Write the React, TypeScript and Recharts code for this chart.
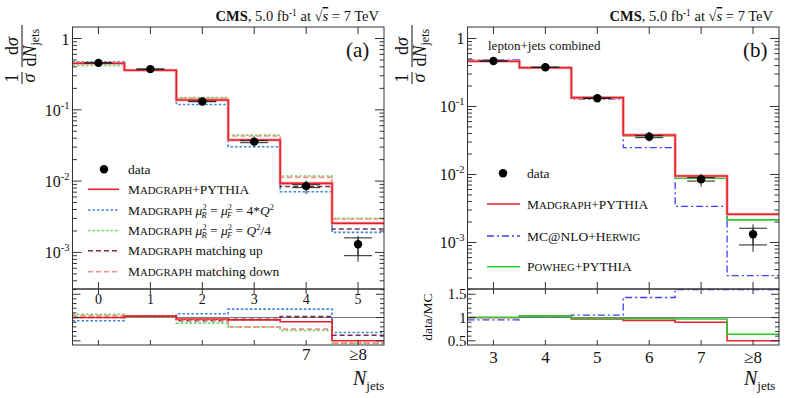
import React from 'react';
import { ComposedChart, Line, Scatter, XAxis, YAxis, ErrorBar, ReferenceLine } from 'recharts';

const FONT = '"Liberation Serif", "DejaVu Serif", serif';
const AXIS_COLOR = '#333';
const TEXT_COLOR = '#111';

// ---------------- Panel (a) ----------------
const CATS_A = [0, 1, 2, 3, 4, 5];
const TOP_LABELS_A = ['0', '1', '2', '3', '4', '5'];
const BOTTOM_LABELS_A = ['', '', '', '', '7', '≥8'];
const DATA_A = [0.455, 0.372, 0.131, 0.0358, 0.0085, 0.0013];
const DATA_A_TOT: number[][] = [[0.01, 0.01], [0.008, 0.008], [0.003, 0.003], [0.0055, 0.0065], [0.0019, 0.0017], [0.00056, 0.0004]];
const DATA_A_STAT: number[][] = [[0.002, 0.002], [0.002, 0.002], [0.001, 0.001], [0.0012, 0.0012], [0.0004, 0.0004], [0.0004, 0.0003]];
const MG_A = [0.45, 0.358, 0.137, 0.0377, 0.0093, 0.00256];
const SCALE_UP_A = [0.473, 0.362, 0.119, 0.0304, 0.0071, 0.00191];
const SCALE_DOWN_A = [0.42, 0.362, 0.148, 0.0443, 0.0118, 0.003];
const MATCH_UP_A = [0.45, 0.36, 0.14, 0.0375, 0.0084, 0.00213];
const MATCH_DOWN_A = [0.44, 0.36, 0.145, 0.043, 0.0113, 0.00295];
const R_MG_A = [1.0, 1.03, 0.97, 0.95, 0.91, 0.5];
const R_SCALE_UP_A = [0.93, 1.03, 1.08, 1.18, 1.18, 0.68];
const R_SCALE_DOWN_A = [1.07, 1.02, 0.88, 0.79, 0.72, 0.45];
const R_MATCH_UP_A = [1.0, 1.03, 0.93, 0.96, 1.02, 0.62];
const R_MATCH_DOWN_A = [1.04, 1.03, 0.95, 0.8, 0.75, 0.45];

// ---------------- Panel (b) ----------------
const CATS_B = [3, 4, 5, 6, 7, 8];
const BOTTOM_LABELS_B = ['3', '4', '5', '6', '7', '≥8'];
const DATA_B = [0.467, 0.377, 0.132, 0.036, 0.0085, 0.00132];
const DATA_B_TOT: number[][] = [[0.01, 0.01], [0.008, 0.008], [0.003, 0.003], [0.0055, 0.0065], [0.0019, 0.0017], [0.00059, 0.00053]];
const DATA_B_STAT: number[][] = [[0.002, 0.002], [0.002, 0.002], [0.001, 0.001], [0.0012, 0.0012], [0.0005, 0.0005], [0.0004, 0.0003]];
const MG_B = [0.462, 0.372, 0.135, 0.038, 0.0095, 0.0026];
const MCNLO_B = [0.483, 0.38, 0.128, 0.0248, 0.0034, 0.000325];
const POWHEG_B = [0.462, 0.375, 0.133, 0.037, 0.0088, 0.00215];
const R_MG_B = [1.0, 1.03, 0.97, 0.94, 0.9, 0.5];
const R_MCNLO_B = [0.95, 1.02, 1.05, 1.43, 1.6, 1.6];
const R_POWHEG_B = [1.0, 1.03, 0.98, 0.98, 0.97, 0.64];

// ---------------- Axes ----------------
const LOG_MAJOR_TICKS = [1, 0.1, 0.01, 0.001];
const LOG_MAJOR_EXP = ['', '-1', '-2', '-3'];
const MAIN_DOMAIN_A: [number, number] = [3.07e-4, 1.45];
const MAIN_DOMAIN_B: [number, number] = [2.07e-4, 1.476];
const RATIO_DOMAIN: [number, number] = [0.41, 1.613];
const RATIO_TICKS = [0.5, 0.6, 0.7, 0.8, 0.9, 1.0, 1.1, 1.2, 1.3, 1.4, 1.5, 1.6];
const RATIO_MAJOR = [0.5, 1, 1.5];
const RATIO_LABELS = ['0.5', '1', '1.5'];

// ---------------- Layout ----------------
const PANEL_W_A = 395;
const PANEL_W_B = 394;
const PANEL_B_X = 395;
const PLOT_LEFT = 72.5;
const PLOT_W = 311.5;
const MAIN_TOP = 27;
const MID_Y = 289;
const BOT_Y = 345;
const MAIN_H = MID_Y - MAIN_TOP;
const RATIO_SVG_TOP = 280;
const RATIO_H = BOT_Y - MID_Y;

const ST = {
  mg: { stroke: '#e8202a', width: 1.6 },
  mgHalo: '#f6a8a8',
  scaleUp: { stroke: '#3b86e0', width: 1.6, dash: '2.5 2' },
  scaleDown: { stroke: '#66dd55', width: 1.6, dash: '2.5 2' },
  matchUp: { stroke: '#7a2d52', width: 1.6, dash: '5 3' },
  matchDown: { stroke: '#f78b8b', width: 1.6, dash: '5 3' },
  mcnlo: { stroke: '#3f3ff0', width: 1.3, dash: '7 3 2 3' },
  powheg: { stroke: '#2cc72c', width: 1.6 },
};

function stepRows(cats: number[], vals: number[]) {
  const rows = cats.map((c, i) => ({ x: c - 0.5, y: vals[i] }));
  rows.push({ x: cats[cats.length - 1] + 0.5, y: vals[vals.length - 1] });
  return rows;
}

function logTicks(domain: [number, number]) {
  const t: number[] = [];
  for (let e = -5; e <= 1; e++) {
    for (let k = 1; k <= 9; k++) {
      const v = k * Math.pow(10, e);
      if (v >= domain[0] && v <= domain[1]) t.push(v);
    }
  }
  return t;
}

function logYTick(plotW: number) {
  return (props: any) => {
    const { x, y, payload } = props;
    const v = payload.value as number;
    const mi = LOG_MAJOR_TICKS.findIndex((m) => Math.abs(m - v) / m < 1e-6);
    const major = mi >= 0;
    const len = major ? 9 : 4.5;
    return (
      <g>
        <line x1={x} y1={y} x2={x + len} y2={y} stroke={AXIS_COLOR} strokeWidth={1} />
        <line x1={x + plotW} y1={y} x2={x + plotW - len} y2={y} stroke={AXIS_COLOR} strokeWidth={1} />
        {major ? (
          <text x={x - 3} y={y + 6} textAnchor="end" fontFamily={FONT} fontSize={16} fill={TEXT_COLOR}>
            {LOG_MAJOR_EXP[mi] === '' ? '1' : (
              <>
                10<tspan fontSize={10.5} dy={-7}>{LOG_MAJOR_EXP[mi]}</tspan>
              </>
            )}
          </text>
        ) : null}
      </g>
    );
  };
}

function ratioYTick(plotW: number, showLabels: boolean) {
  return (props: any) => {
    const { x, y, payload } = props;
    const v = payload.value as number;
    const mi = RATIO_MAJOR.findIndex((m) => Math.abs(m - v) < 1e-6);
    const major = mi >= 0;
    const len = major ? 8 : 4;
    return (
      <g>
        <line x1={x} y1={y} x2={x + len} y2={y} stroke={AXIS_COLOR} strokeWidth={1} />
        <line x1={x + plotW} y1={y} x2={x + plotW - len} y2={y} stroke={AXIS_COLOR} strokeWidth={1} />
        {major && showLabels ? (
          <text x={x - 1} y={y + 5} textAnchor="end" fontFamily={FONT} fontSize={15} fill={TEXT_COLOR}>
            {RATIO_LABELS[mi]}
          </text>
        ) : null}
      </g>
    );
  };
}

function mainXTick(plotH: number) {
  return (props: any) => {
    const { x, y } = props;
    return (
      <g>
        <line x1={x} x2={x} y1={y} y2={y - 7} stroke={AXIS_COLOR} strokeWidth={1} />
        <line x1={x} x2={x} y1={y - plotH} y2={y - plotH + 7} stroke={AXIS_COLOR} strokeWidth={1} />
      </g>
    );
  };
}

function ratioXTick(plotH: number, cats: number[], bottomLabels: string[], bottomDy: number, topLabels?: string[]) {
  return (props: any) => {
    const { x, y, payload } = props;
    const i = cats.indexOf(payload.value);
    return (
      <g>
        <line x1={x} x2={x} y1={y} y2={y - 5} stroke={AXIS_COLOR} strokeWidth={1} />
        <line x1={x} x2={x} y1={y - plotH} y2={y - plotH + 5} stroke={AXIS_COLOR} strokeWidth={1} />
        {bottomLabels[i] ? (
          <text x={x} y={y + bottomDy} textAnchor="middle" fontFamily={FONT} fontSize={17} fill={TEXT_COLOR}>
            {bottomLabels[i]}
          </text>
        ) : null}
        {topLabels && topLabels[i] ? (
          <text x={x} y={y - plotH + 14.5} textAnchor="middle" fontFamily={FONT} fontSize={14} fill={TEXT_COLOR}>
            {topLabels[i]}
          </text>
        ) : null}
      </g>
    );
  };
}

function stepLine(key: string, cats: number[], vals: number[], s: { stroke: string; width: number; dash?: string }) {
  return (
    <Line
      key={key}
      data={stepRows(cats, vals)}
      dataKey="y"
      type="stepAfter"
      stroke={s.stroke}
      strokeWidth={s.width}
      strokeDasharray={s.dash}
      dot={false}
      activeDot={false}
      isAnimationActive={false}
    />
  );
}

function dataScatter(cats: number[], vals: number[], tot: number[][], stat: number[][]) {
  const pts = cats.map((c, i) => ({ x: c, y: vals[i], tot: tot[i], stat: stat[i] }));
  return (
    <Scatter
      key="data"
      data={pts}
      dataKey="y"
      isAnimationActive={false}
      shape={(p: any) => <circle cx={p.cx} cy={p.cy} r={4.2} fill="#000" />}
    >
      <ErrorBar dataKey="tot" direction="y" width={0} stroke="#222" strokeWidth={1} />
      <ErrorBar dataKey="stat" direction="y" width={14} stroke="#222" strokeWidth={1} />
    </Scatter>
  );
}

function MainChart({ width, cats, domain, children }: any) {
  return (
    <ComposedChart
      width={width}
      height={295}
      margin={{ top: MAIN_TOP, right: width - PLOT_LEFT - PLOT_W, bottom: 1, left: PLOT_LEFT - 40 }}
    >
      <XAxis
        type="number"
        dataKey="x"
        domain={[cats[0] - 0.5, cats[cats.length - 1] + 0.5]}
        allowDataOverflow
        ticks={cats}
        interval={0}
        height={5}
        axisLine={false}
        tickLine={false}
        tickSize={0}
        tickMargin={0}
        tick={mainXTick(MAIN_H)}
      />
      <YAxis
        type="number"
        scale="log"
        domain={domain}
        allowDataOverflow
        ticks={logTicks(domain)}
        interval={0}
        width={40}
        axisLine={false}
        tickLine={false}
        tickSize={0}
        tickMargin={0}
        tick={logYTick(PLOT_W)}
      />
      {children}
    </ComposedChart>
  );
}

function RatioChart({ width, cats, bottomLabels, bottomDy, topLabels, showYLabels, children }: any) {
  return (
    <ComposedChart
      width={width}
      height={118}
      margin={{ top: MID_Y - RATIO_SVG_TOP, right: width - PLOT_LEFT - PLOT_W, bottom: 118 - (BOT_Y - RATIO_SVG_TOP) - 30, left: PLOT_LEFT - 40 }}
    >
      <XAxis
        type="number"
        dataKey="x"
        domain={[cats[0] - 0.5, cats[cats.length - 1] + 0.5]}
        allowDataOverflow
        ticks={cats}
        interval={0}
        height={30}
        axisLine={false}
        tickLine={false}
        tickSize={0}
        tickMargin={0}
        tick={ratioXTick(RATIO_H, cats, bottomLabels, bottomDy, topLabels)}
      />
      <YAxis
        type="number"
        domain={RATIO_DOMAIN}
        allowDataOverflow
        ticks={RATIO_TICKS}
        interval={0}
        width={40}
        axisLine={false}
        tickLine={false}
        tickSize={0}
        tickMargin={0}
        tick={ratioYTick(PLOT_W, showYLabels)}
      />
      <ReferenceLine y={1} stroke="#7a7a7a" strokeWidth={1} />
      {children}
    </ComposedChart>
  );
}

const SC = ({ t, size }: { t: string; size: number }) => (
  <>
    <tspan>{t[0]}</tspan>
    <tspan fontSize={size * 0.8}>{t.slice(1)}</tspan>
  </>
);

const Mu = ({ sub, size }: { sub: string; size: number }) => (
  <>
    <tspan fontStyle="italic">μ</tspan>
    <tspan fontSize={size * 0.62} dy={-5}>2</tspan>
    <tspan fontSize={size * 0.62} fontStyle="italic" dx={-5} dy={8}>{sub}</tspan>
    <tspan dy={-3}> </tspan>
  </>
);

function YTitle({ x, y }: { x: number; y: number }) {
  return (
    <g transform={`translate(${x},${y}) rotate(-90)`} fontFamily={FONT} fill={TEXT_COLOR}>
      <text x={6} y={-4} textAnchor="middle" fontSize={18}>1</text>
      <line x1={0} x2={12} y1={0} y2={0} stroke={TEXT_COLOR} strokeWidth={1} />
      <text x={6} y={13} textAnchor="middle" fontSize={18} fontStyle="italic">σ</text>
      <text x={38} y={-4} textAnchor="middle" fontSize={18}>
        d<tspan fontStyle="italic">σ</tspan>
      </text>
      <line x1={17} x2={59} y1={0} y2={0} stroke={TEXT_COLOR} strokeWidth={1} />
      <text x={17.5} y={13.5} fontSize={18}>
        d<tspan fontStyle="italic">N</tspan>
        <tspan fontSize={12} dy={3}>jets</tspan>
      </text>
    </g>
  );
}

function Header({ xEnd }: { xEnd: number }) {
  return (
    <text x={xEnd} y={21} textAnchor="end" fontFamily={FONT} fontSize={14.5} fill={TEXT_COLOR}>
      <tspan fontWeight="bold">CMS</tspan>, 5.0 fb<tspan fontSize={9.5} dy={-5}>-1</tspan>
      <tspan dy={5}> at √</tspan>
      <tspan fontStyle="italic" textDecoration="overline">s</tspan> = 7 TeV
    </text>
  );
}

function NjetsTitle({ x }: { x: number }) {
  return (
    <text x={x} y={385} fontFamily={FONT} fontSize={20} fill={TEXT_COLOR}>
      <tspan fontStyle="italic">N</tspan>
      <tspan fontSize={13} dy={5}>jets</tspan>
    </text>
  );
}

function LegendLine({ x1, x2, y, s }: any) {
  return <line x1={x1} x2={x2} y1={y} y2={y} stroke={s.stroke} strokeWidth={s.width} strokeDasharray={s.dash} />;
}

export default function App() {
  const LS = 13.5;
  return (
    <div style={{ position: 'absolute', left: 0, top: 0, width: 789, height: 398, background: '#fff', overflow: 'hidden' }}>
      {/* Panel (a) main */}
      <div style={{ position: 'absolute', left: 0, top: 0 }}>
        <MainChart width={PANEL_W_A} cats={CATS_A} domain={MAIN_DOMAIN_A}>
          {stepLine('su', CATS_A, SCALE_UP_A, ST.scaleUp)}
          {stepLine('sd', CATS_A, SCALE_DOWN_A, ST.scaleDown)}
          {stepLine('mu', CATS_A, MATCH_UP_A, ST.matchUp)}
          {stepLine('md', CATS_A, MATCH_DOWN_A, ST.matchDown)}
          {stepLine('mgh', CATS_A, MG_A, { stroke: ST.mgHalo, width: 3 })}
          {stepLine('mg', CATS_A, MG_A, ST.mg)}
          {dataScatter(CATS_A, DATA_A, DATA_A_TOT, DATA_A_STAT)}
        </MainChart>
      </div>
      {/* Panel (a) ratio */}
      <div style={{ position: 'absolute', left: 0, top: RATIO_SVG_TOP }}>
        <RatioChart width={PANEL_W_A} cats={CATS_A} bottomLabels={BOTTOM_LABELS_A} bottomDy={15} topLabels={TOP_LABELS_A} showYLabels={false}>
          {stepLine('rsu', CATS_A, R_SCALE_UP_A, ST.scaleUp)}
          {stepLine('rsd', CATS_A, R_SCALE_DOWN_A, ST.scaleDown)}
          {stepLine('rmu', CATS_A, R_MATCH_UP_A, ST.matchUp)}
          {stepLine('rmd', CATS_A, R_MATCH_DOWN_A, ST.matchDown)}
          {stepLine('rmg', CATS_A, R_MG_A, ST.mg)}
        </RatioChart>
      </div>
      {/* Panel (b) main */}
      <div style={{ position: 'absolute', left: PANEL_B_X, top: 0 }}>
        <MainChart width={PANEL_W_B} cats={CATS_B} domain={MAIN_DOMAIN_B}>
          {stepLine('nlo', CATS_B, MCNLO_B, ST.mcnlo)}
          {stepLine('pw', CATS_B, POWHEG_B, ST.powheg)}
          {stepLine('mgh', CATS_B, MG_B, { stroke: ST.mgHalo, width: 3 })}
          {stepLine('mg', CATS_B, MG_B, ST.mg)}
          {dataScatter(CATS_B, DATA_B, DATA_B_TOT, DATA_B_STAT)}
        </MainChart>
      </div>
      {/* Panel (b) ratio */}
      <div style={{ position: 'absolute', left: PANEL_B_X, top: RATIO_SVG_TOP }}>
        <RatioChart width={PANEL_W_B} cats={CATS_B} bottomLabels={BOTTOM_LABELS_B} bottomDy={18} showYLabels={true}>
          {stepLine('rnlo', CATS_B, R_MCNLO_B, ST.mcnlo)}
          {stepLine('rmg', CATS_B, R_MG_B, ST.mg)}
          {stepLine('rpw', CATS_B, R_POWHEG_B, ST.powheg)}
        </RatioChart>
      </div>

      {/* Overlay: frames, titles, legends */}
      <svg width={789} height={398} style={{ position: 'absolute', left: 0, top: 0, pointerEvents: 'none' }}>
        {[0, PANEL_B_X].map((ox) => (
          <g key={ox}>
            <rect x={ox + PLOT_LEFT} y={MAIN_TOP} width={PLOT_W} height={MAIN_H} fill="none" stroke={AXIS_COLOR} strokeWidth={1} />
            <rect x={ox + PLOT_LEFT} y={MID_Y} width={PLOT_W} height={RATIO_H} fill="none" stroke={AXIS_COLOR} strokeWidth={1} />
          </g>
        ))}
        <Header xEnd={379} />
        <Header xEnd={773} />
        <text x={346} y={57} fontFamily={FONT} fontSize={21} fill={TEXT_COLOR}>(a)</text>
        <text x={743} y={57} fontFamily={FONT} fontSize={21} fill={TEXT_COLOR}>(b)</text>
        <YTitle x={22} y={84} />
        <YTitle x={412} y={84} />
        <text transform="translate(432,317) rotate(-90)" textAnchor="middle" fontFamily={FONT} fontSize={13.5} fill={TEXT_COLOR}>data/MC</text>
        <NjetsTitle x={353} />
        <NjetsTitle x={744} />
        <text x={488} y={50} fontFamily={FONT} fontSize={13} fill={TEXT_COLOR}>lepton+jets combined</text>

        {/* Legend (a) */}
        <g fontFamily={FONT} fontSize={LS} fill={TEXT_COLOR}>
          <circle cx={104} cy={169.3} r={4.2} fill="#000" />
          <text x={128} y={173.8}>data</text>
          <LegendLine x1={88} x2={119} y={189.3} s={ST.mg} />
          <text x={128} y={193.8}><SC t="MADGRAPH" size={LS} />+PYTHIA</text>
          <LegendLine x1={88} x2={119} y={210} s={ST.scaleUp} />
          <text x={128} y={214.5}><SC t="MADGRAPH" size={LS} />  <Mu sub="R" size={LS} />=  <Mu sub="F" size={LS} />= 4*<tspan fontStyle="italic">Q</tspan><tspan fontSize={LS * 0.62} dy={-5}>2</tspan></text>
          <LegendLine x1={88} x2={119} y={230.5} s={ST.scaleDown} />
          <text x={128} y={235}><SC t="MADGRAPH" size={LS} />  <Mu sub="R" size={LS} />=  <Mu sub="F" size={LS} />= <tspan fontStyle="italic">Q</tspan><tspan fontSize={LS * 0.62} dy={-5}>2</tspan><tspan dy={5}>/4</tspan></text>
          <LegendLine x1={88} x2={119} y={250.7} s={ST.matchUp} />
          <text x={128} y={255.2}><SC t="MADGRAPH" size={LS} /> matching up</text>
          <LegendLine x1={88} x2={119} y={271.7} s={ST.matchDown} />
          <text x={128} y={276.2}><SC t="MADGRAPH" size={LS} /> matching down</text>
        </g>

        {/* Legend (b) */}
        <g fontFamily={FONT} fontSize={LS} fill={TEXT_COLOR}>
          <circle cx={503} cy={173.3} r={4.2} fill="#000" />
          <text x={527} y={177.8}>data</text>
          <LegendLine x1={487} x2={520} y={204} s={ST.mg} />
          <text x={527} y={208.5}><SC t="MADGRAPH" size={LS} />+PYTHIA</text>
          <LegendLine x1={487} x2={520} y={236} s={ST.mcnlo} />
          <text x={527} y={240.5}>MC@NLO+<SC t="HERWIG" size={LS} /></text>
          <LegendLine x1={487} x2={520} y={266.7} s={ST.powheg} />
          <text x={527} y={271.2}><SC t="POWHEG" size={LS} />+PYTHIA</text>
        </g>
      </svg>
    </div>
  );
}
